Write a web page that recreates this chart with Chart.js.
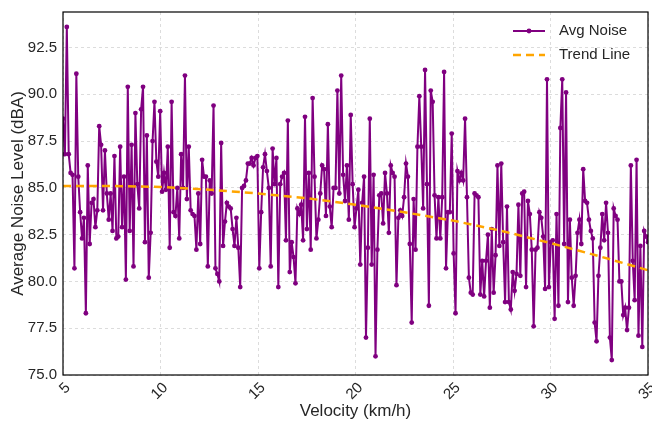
<!DOCTYPE html>
<html>
<head>
<meta charset="utf-8">
<script src="https://cdn.jsdelivr.net/npm/chart.js@4"></script>
<style>
    html, body { margin: 0; padding: 0; background: #ffffff; }
    #graph { display: block; }
</style>
</head>
<body>
<canvas id="graph" width="652" height="424"></canvas>
<script>
// measured noise, read left to right off the plot (velocity 5 -> 35 km/h)
const noise = [
    88.7, 86.8, 93.6, 86.8, 85.8, 85.7, 80.7, 91.1, 85.6, 83.7, 82.3, 83.4, 78.3, 86.2, 82.0, 84.2, 84.4, 82.9, 83.8, 88.3, 87.3, 83.8, 87.0, 84.7, 83.3,
    84.7, 82.7, 86.7, 82.3, 82.4, 87.2, 82.9, 85.6, 80.1, 90.4, 82.7, 87.3, 80.8, 89.0, 85.2, 83.9, 89.2, 90.4, 82.1, 87.8, 80.2, 82.6, 87.5, 89.6,
    86.4, 85.6, 89.1, 84.8, 85.8, 84.9, 87.2, 81.8, 89.6, 83.7, 83.5, 85.0, 82.3, 86.8, 85.0, 91.0, 84.4, 87.2, 83.8, 83.6, 83.5, 81.7, 84.7, 82.0,
    86.5, 85.6, 85.6, 80.8, 85.4, 84.7, 89.4, 80.7, 80.4, 80.0, 87.4, 81.9, 83.2, 84.2, 84.0, 83.9, 82.8, 81.9, 83.4, 81.8, 79.7, 85.0, 85.1, 85.4, 86.3, 86.3,
    86.6, 86.2, 86.6, 86.7, 80.7, 83.7, 86.1, 86.8, 85.9, 85.0, 80.8, 87.1, 85.2, 86.6, 79.7, 85.2, 85.6, 85.8, 82.2, 88.6, 80.5, 82.1, 81.3, 79.9, 83.9, 83.6, 84.1, 82.2, 88.8, 82.8,
    85.8, 81.7, 89.8, 85.6, 82.3, 83.3, 84.7, 86.2, 86.0, 83.5, 88.4, 84.0, 82.9, 85.0, 85.0, 90.2, 84.7, 91.0, 85.7, 84.3, 86.2, 83.3, 88.9, 85.2, 82.9,
    83.9, 84.9, 80.9, 84.2, 85.6, 77.0, 81.8, 88.7, 80.9, 85.7, 76.0, 81.7, 84.6, 84.7, 83.1, 85.8, 84.7, 82.6, 86.2, 85.8, 85.6, 79.8, 83.4, 83.8, 83.5, 84.5, 86.3,
    85.6, 82.0, 77.8, 84.4, 81.7, 87.2, 89.9, 87.2, 83.9, 91.3, 85.2, 78.7, 90.2, 89.6, 84.6, 82.3, 84.5, 82.3, 84.5, 91.2, 80.7, 83.7, 83.7, 87.9, 81.5, 78.3, 85.9, 85.4,
    85.8, 85.4, 88.7, 84.5, 80.2, 79.4, 79.3, 84.7, 84.6, 84.5, 79.3, 81.1, 79.2, 81.1, 82.5, 78.6, 82.8, 79.4, 81.4, 86.2, 81.9, 86.3, 82.1, 78.9, 84.0, 78.9, 78.5, 80.5,
    79.5, 80.4, 84.1, 80.3, 84.7, 84.8, 79.7, 84.3, 83.6, 81.7, 77.6, 81.7, 81.8, 83.7, 83.4, 82.4, 79.6, 90.8, 79.7, 82.1, 82.2, 78.0, 83.6, 78.7, 88.2, 90.8, 82.0,
    90.1, 78.9, 83.3, 80.2, 78.7, 80.3, 82.6, 83.3, 82.0, 86.0, 84.3, 84.2, 83.3, 82.7, 82.3, 77.8, 76.8, 80.3, 81.8,
    83.6, 82.2, 84.2, 82.6, 77.0, 75.8, 83.9, 83.5, 83.3, 80.0, 80.0, 78.2, 78.6, 77.4, 78.6, 86.2, 81.1, 79.0, 86.5, 77.1, 81.9, 76.5, 82.7, 82.4, 82.1
]

// fitted trend, read at every 2.5 km/h
const trendVelocity = [5, 7.5, 10, 12.5, 15, 17.5, 20, 22.5, 25, 27.5, 30, 32.5, 35]
const trendNoise = [85.1, 85.1, 85.05, 84.9, 84.7, 84.45, 84.1, 83.7, 83.25, 82.7, 82.05, 81.35, 80.6]

const velocityMin = 5
const velocityMax = 35
const xTicks = [5, 10, 15, 20, 25, 30, 35]
const yTicks = [75.0, 77.5, 80.0, 82.5, 85.0, 87.5, 90.0, 92.5]

// noise samples are evenly spaced over the velocity range
const noisePoints = noise.map((v, i) => ({
    x: velocityMin + (velocityMax - velocityMin) * i / (noise.length - 1),
    y: v
}))
const trendPoints = trendVelocity.map((v, i) => ({x: v, y: trendNoise[i]}))

const FONT = '"Liberation Sans", Arial, sans-serif'
const TEXT = '#262626'

// frame all four sides like the matplotlib spines
const frame = {
    id: 'frame',
    afterDatasetsDraw(chart)
    {
        const {ctx, chartArea: a} = chart
        ctx.save()
        ctx.strokeStyle = '#000000'
        ctx.lineWidth = 1.2
        ctx.strokeRect(a.left, a.top, a.right - a.left, a.bottom - a.top)
        ctx.restore()
    }
}

// legend drawn inside the plot, upper right
const insideLegend = {
    id: 'insideLegend',
    afterDraw(chart)
    {
        const {ctx, chartArea: a} = chart
        const sets = chart.data.datasets
        ctx.save()
        ctx.font = '15px ' + FONT
        ctx.textBaseline = 'middle'
        sets.forEach((ds, i) => {
            const y = a.top + 19 + i * 24
            const x0 = a.right - 135
            const x1 = x0 + 32
            ctx.beginPath()
            ctx.setLineDash(ds.borderDash || [])
            ctx.strokeStyle = ds.borderColor
            ctx.lineWidth = ds.borderWidth
            ctx.moveTo(x0, y)
            ctx.lineTo(x1, y)
            ctx.stroke()
            ctx.setLineDash([])
            if (ds.pointRadius > 0)
            {
                ctx.beginPath()
                ctx.fillStyle = ds.pointBackgroundColor
                ctx.arc((x0 + x1) / 2, y, ds.pointRadius, 0, Math.PI * 2)
                ctx.fill()
            }
            ctx.fillStyle = TEXT
            ctx.fillText(ds.label, x1 + 14, y)
        })
        ctx.restore()
    }
}

new Chart(document.querySelector('#graph'),
{
    type: 'line',
    data:
    {
        datasets:
        [
            {
                label: 'Avg Noise',
                data: noisePoints,
                order: 1,
                borderColor: '#800080',
                backgroundColor: '#800080',
                pointBackgroundColor: '#800080',
                pointBorderWidth: 0,
                borderWidth: 2,
                pointRadius: 2.4,
                tension: 0
            },
            {
                label: 'Trend Line',
                data: trendPoints,
                order: 0,
                borderColor: '#FFA500',
                borderWidth: 2.5,
                borderDash: [8, 5],
                pointRadius: 0,
                tension: 0
            }
        ]
    },
    options:
    {
        responsive: false,
        animation: false,
        layout: {padding: {top: 12, right: 4, left: 0, bottom: 0}},
        plugins:
        {
            legend: {display: false},
            tooltip: {enabled: false}
        },
        scales:
        {
            x:
            {
                type: 'linear',
                min: velocityMin,
                max: velocityMax,
                afterBuildTicks(axis) { axis.ticks = xTicks.map(v => ({value: v})) },
                afterFit(axis)
                {
                    axis.height = 49
                    axis.paddingLeft = 0
                    axis.paddingRight = 0
                },
                border: {display: false, dash: [3, 3]},
                grid: {color: '#d4d4d4', drawTicks: false, lineWidth: 0.8},
                ticks:
                {
                    minRotation: 45,
                    maxRotation: 45,
                    padding: 4,
                    labelOffset: 5,
                    color: TEXT,
                    font: {family: FONT, size: 15}
                },
                title:
                {
                    display: true,
                    text: 'Velocity (km/h)',
                    color: TEXT,
                    font: {family: FONT, size: 17},
                    padding: {top: 0, bottom: 2}
                }
            },
            y:
            {
                min: 75,
                max: 94.4,
                afterBuildTicks(axis) { axis.ticks = yTicks.map(v => ({value: v})) },
                afterFit(axis)
                {
                    axis.width = 63
                    axis.paddingTop = 0
                    axis.paddingBottom = 0
                },
                border: {display: false, dash: [3, 3]},
                grid: {color: '#d4d4d4', drawTicks: false, lineWidth: 0.8},
                ticks:
                {
                    padding: 6,
                    color: TEXT,
                    font: {family: FONT, size: 15},
                    callback: v => v.toFixed(1)
                },
                title:
                {
                    display: true,
                    text: 'Average Noise Level (dBA)',
                    color: TEXT,
                    font: {family: FONT, size: 17},
                    padding: {top: 8, bottom: 0}
                }
            }
        }
    },
    plugins: [frame, insideLegend]
})
</script>
</body>
</html>
